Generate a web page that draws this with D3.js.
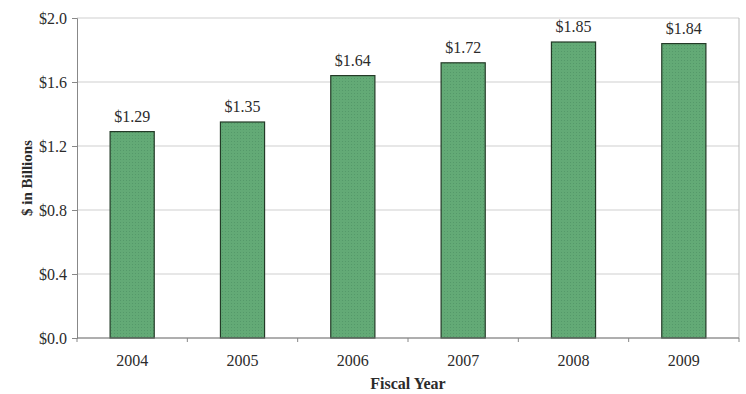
<!DOCTYPE html>
<html>
<head>
<meta charset="utf-8">
<script src="https://cdn.jsdelivr.net/npm/d3@7"></script>
<style>
  html, body { margin: 0; padding: 0; background: #fff; }
  svg { display: block; }
  text { font-family: "Liberation Serif", "Times New Roman", serif; fill: #2b2b2b; }
</style>
</head>
<body>
<svg id="chart" width="746" height="394"></svg>
<script>
// Annual funding by fiscal year, $ billions
const years = ["2004", "2005", "2006", "2007", "2008", "2009"];
const amounts = [1.29, 1.35, 1.64, 1.72, 1.85, 1.84];
const yTicks = [0, 0.4, 0.8, 1.2, 1.6, 2.0];

const svg = d3.select("#chart");
const margin = { left: 77, right: 7, top: 18, bottom: 56 };
const W = 746, H = 394;

const x = d3.scaleBand().domain(years).range([margin.left, W - margin.right]).paddingInner(0.6).paddingOuter(0.3);
const y = d3.scaleLinear().domain([0, 2.0]).range([H - margin.bottom, margin.top]);

// fine dotted texture for the bars
const defs = svg.append("defs");
const pat = defs.append("pattern").attr("id", "dots").attr("patternUnits", "userSpaceOnUse")
  .attr("width", 3).attr("height", 3);
pat.append("rect").attr("width", 3).attr("height", 3).attr("fill", "#63aa76");
pat.append("rect").attr("width", 1).attr("height", 1).attr("fill", "#55996a");

// horizontal gridlines
svg.append("g").selectAll("line").data(yTicks).join("line")
  .attr("x1", margin.left).attr("x2", W - margin.right)
  .attr("y1", d => y(d)).attr("y2", d => y(d))
  .attr("stroke", "#cfcfcf").attr("stroke-width", 1);

// right frame edge
svg.append("line")
  .attr("x1", W - margin.right).attr("x2", W - margin.right)
  .attr("y1", margin.top).attr("y2", H - margin.bottom)
  .attr("stroke", "#bbb");

// y axis
const yAxis = d3.axisLeft(y).tickValues(yTicks).tickSize(5).tickPadding(5)
  .tickFormat(d => "$" + d3.format(".1f")(d));
const gy = svg.append("g").attr("transform", `translate(${margin.left},0)`).call(yAxis);
gy.select(".domain").attr("stroke", "#888");
gy.selectAll(".tick line").attr("stroke", "#888");
gy.selectAll("text").attr("font-size", 16).attr("font-family", "Liberation Serif, serif").attr("fill", "#2b2b2b");

// bars
svg.append("g").selectAll("rect").data(years).join("rect")
  .attr("x", d => x(d))
  .attr("width", x.bandwidth())
  .attr("y", (d, i) => y(amounts[i]))
  .attr("height", (d, i) => y(0) - y(amounts[i]))
  .attr("fill", "url(#dots)")
  .attr("stroke", "#233a27").attr("stroke-width", 1.2);

// value labels
svg.append("g").selectAll("text").data(years).join("text")
  .attr("x", d => x(d) + x.bandwidth() / 2)
  .attr("y", (d, i) => y(amounts[i]) - 10)
  .attr("text-anchor", "middle")
  .attr("font-size", 16)
  .text((d, i) => "$" + amounts[i].toFixed(2));

// x axis with ticks on category boundaries
const gx = svg.append("g").attr("transform", `translate(0,${H - margin.bottom})`);
gx.append("line").attr("x1", margin.left).attr("x2", W - margin.right)
  .attr("stroke", "#777");
const bounds = d3.range(years.length + 1).map(i => margin.left + i * (W - margin.left - margin.right) / years.length);
gx.selectAll("line.b").data(bounds).join("line").attr("class", "b")
  .attr("x1", d => d).attr("x2", d => d).attr("y1", 0).attr("y2", 4)
  .attr("stroke", "#888");
gx.selectAll("text").data(years).join("text")
  .attr("x", d => x(d) + x.bandwidth() / 2)
  .attr("y", 28)
  .attr("text-anchor", "middle")
  .attr("font-size", 16)
  .text(d => d);

// axis titles
svg.append("text")
  .attr("x", (margin.left + W - margin.right) / 2).attr("y", 389)
  .attr("text-anchor", "middle").attr("font-size", 16).attr("font-weight", "bold")
  .text("Fiscal Year");
svg.append("text")
  .attr("transform", "translate(32,178) rotate(-90)")
  .attr("text-anchor", "middle").attr("font-size", 15).attr("font-weight", "bold")
  .text("$ in Billions");
</script>
</body>
</html>
